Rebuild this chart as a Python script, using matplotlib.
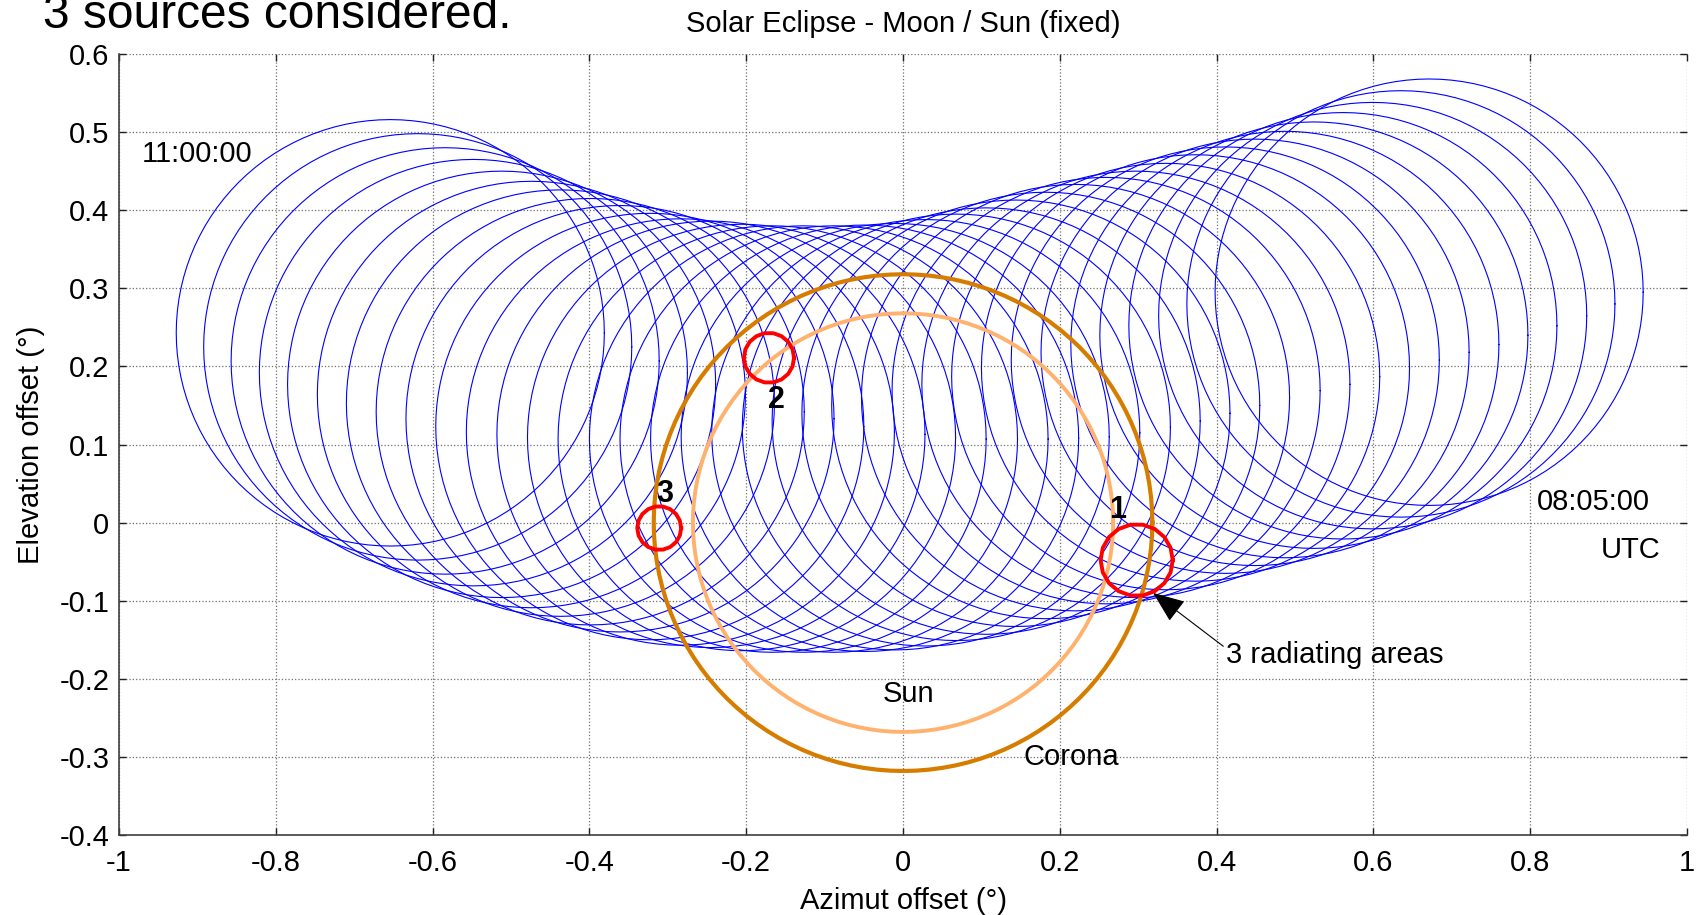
import numpy as np
import matplotlib.pyplot as plt

plt.rcParams['font.family'] = ['Liberation Sans', 'DejaVu Sans']

# centre of the moon every 5 minutes, from 08:05:00 (right) to 11:00:00 (left)
moon_az = [0.671, 0.635, 0.599, 0.561, 0.524, 0.487, 0.449, 0.411, 0.373, 0.335,
           0.297, 0.259, 0.220, 0.182, 0.144, 0.106, 0.068, 0.029, -0.010, -0.049,
           -0.088, -0.127, -0.167, -0.206, -0.245, -0.284, -0.323, -0.361, -0.399, -0.437,
           -0.474, -0.512, -0.548, -0.584, -0.619, -0.654]
moon_el = [0.295, 0.280, 0.265, 0.252, 0.240, 0.228, 0.218, 0.208, 0.198, 0.187,
           0.177, 0.169, 0.160, 0.150, 0.140, 0.130, 0.122, 0.115, 0.110, 0.108,
           0.107, 0.107, 0.107, 0.109, 0.113, 0.116, 0.123, 0.133, 0.142, 0.153,
           0.164, 0.177, 0.192, 0.207, 0.225, 0.243]
moon_r = 0.273

# sun (fixed at the origin) and corona
sun_r = 0.268
corona_r = 0.318

# the 3 radiating areas
src_names = ['1', '2', '3']
src_az = [0.298, -0.171, -0.311]
src_el = [-0.048, 0.211, -0.007]
src_r = [0.046, 0.032, 0.028]

xticks = [-1, -0.8, -0.6, -0.4, -0.2, 0, 0.2, 0.4, 0.6, 0.8, 1]
yticks = [-0.4, -0.3, -0.2, -0.1, 0, 0.1, 0.2, 0.3, 0.4, 0.5, 0.6]


def ring(cx, cy, r, n=120):
    t = np.linspace(0, 2 * np.pi, n + 1)
    return cx + r * np.cos(t), cy + r * np.sin(t)


fig = plt.figure(figsize=(17, 9.15), dpi=100)
ax = fig.add_axes([0.07, 0.0874, 0.9224, 0.8536])

for cx, cy in zip(moon_az, moon_el):
    x, y = ring(cx, cy, moon_r)
    ax.plot(x, y, color='#0000ff', lw=0.8)

x, y = ring(0, 0, corona_r)
ax.plot(x, y, color='#d67d00', lw=3.0, zorder=3)
x, y = ring(0, 0, sun_r)
ax.plot(x, y, color='#ffb26e', lw=2.8, zorder=3)

for cx, cy, r in zip(src_az, src_el, src_r):
    x, y = ring(cx, cy, r, n=18)
    ax.plot(x, y, color='#ff0000', lw=2.8, zorder=4)

fs = 21
lab_pos = {'1': (0.274, 0.016), '2': (-0.162, 0.157), '3': (-0.304, 0.036)}
for name in src_names:
    ax.text(*lab_pos[name], name, fontsize=22, fontweight='bold',
            ha='center', va='center', zorder=5)

ax.text(-0.900, 0.472, '11:00:00', fontsize=fs, ha='center', va='center')
ax.text(0.880, 0.026, '08:05:00', fontsize=fs, ha='center', va='center')
ax.text(0.928, -0.035, 'UTC', fontsize=fs, ha='center', va='center')
ax.text(0.007, -0.219, 'Sun', fontsize=fs, ha='center', va='center')
ax.text(0.215, -0.300, 'Corona', fontsize=fs, ha='center', va='center')

ax.annotate('3 radiating areas', xy=(0.319, -0.090), xytext=(0.412, -0.170),
            fontsize=fs, ha='left', va='center',
            arrowprops=dict(arrowstyle='-|>,head_length=1.0,head_width=0.4',
                            mutation_scale=20, color='k', lw=0.8,
                            shrinkA=0, shrinkB=0,
                            relpos=(0, 0.75)))

ax.set_xlim(-1, 1)
ax.set_ylim(-0.4, 0.6)
ax.set_xticks(xticks)
ax.set_yticks(yticks)
ax.set_xticklabels(['%g' % v for v in xticks])
ax.set_yticklabels(['%g' % v for v in yticks])
ax.tick_params(direction='in', length=5, width=1, labelsize=fs,
               top=True, right=True, color='#202020')
ax.tick_params(axis='x', pad=10)
ax.tick_params(axis='y', pad=7)
ax.grid(True, linestyle=':', color='#6e6e6e', lw=0.9)
ax.set_axisbelow(True)
for s in ['top', 'right']:
    ax.spines[s].set_visible(False)
for s in ['left', 'bottom']:
    ax.spines[s].set_color('#404040')
    ax.spines[s].set_linewidth(1.2)

ax.set_xlabel('Azimut offset (°)', fontsize=fs, labelpad=7)
ax.set_ylabel('Elevation offset (°)', fontsize=fs, labelpad=10)
ax.set_title('Solar Eclipse - Moon / Sun (fixed)', fontsize=fs, pad=16)

# heading of the slide, partly cut off at the top edge as in the source
fig.text(0.0255, 0.9690, '3 sources considered.', fontsize=34.5,
         ha='left', va='baseline')

fig.savefig('out.png', dpi=100)
